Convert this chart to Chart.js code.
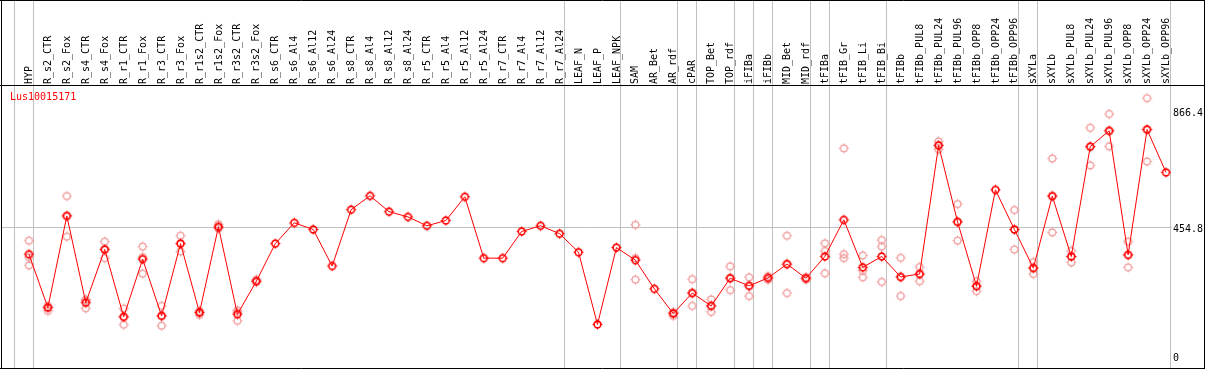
<!DOCTYPE html>
<html><head><meta charset="utf-8">
<script src="https://cdn.jsdelivr.net/npm/chart.js@4/dist/chart.umd.min.js"></script>
<style>html,body{margin:0;padding:0;background:#fff;}canvas{display:block;}</style>
</head><body>
<canvas id="c" width="1209" height="370"></canvas>
<script>
const categories = ["HYP","R_s2_CTR","R_s2_Fox","R_s4_CTR","R_s4_Fox","R_r1_CTR","R_r1_Fox","R_r3_CTR","R_r3_Fox","R_r1s2_CTR","R_r1s2_Fox","R_r3s2_CTR","R_r3s2_Fox","R_s6_CTR","R_s6_Al4","R_s6_Al12","R_s6_Al24","R_s8_CTR","R_s8_Al4","R_s8_Al12","R_s8_Al24","R_r5_CTR","R_r5_Al4","R_r5_Al12","R_r5_Al24","R_r7_CTR","R_r7_Al4","R_r7_Al12","R_r7_Al24","LEAF_N","LEAF_P","LEAF_NPK","SAM","AR_Bet","AR_rdf","cPAR","TOP_Bet","TOP_rdf","iFIBa","iFIBb","MID_Bet","MID_rdf","tFIBa","tFIB_Gr","tFIB_Li","tFIB_Bi","tFIBb","tFIBb_PUL8","tFIBb_PUL24","tFIBb_PUL96","tFIBb_OPP8","tFIBb_OPP24","tFIBb_OPP96","sXYLa","sXYLb","sXYLb_PUL8","sXYLb_PUL24","sXYLb_PUL96","sXYLb_OPP8","sXYLb_OPP24","sXYLb_OPP96"];
const meanValues = [357.6,168.3,493.3,185.8,374.1,135.7,340.1,139.2,395.2,150.8,454.8,144.8,261.9,395.2,468.8,445.3,315.6,515.4,564.5,508.4,489.8,458.3,476.9,561.0,343.6,343.6,438.3,458.3,430.2,364.7,108.7,381.1,336.6,234.9,147.3,219.8,174.3,272.4,245.4,273.5,322.6,272.4,349.6,479.3,311.0,349.6,277.0,287.5,743.3,472.3,244.4,585.6,445.3,308.6,563.5,349.6,738.8,794.9,355.2,799.4,647.6];
const replicateValues = [
 [405.7,347.3,318.0],[174.3,168.3,156.7],[563.5,493.3,419.7],[197.4,192.8,165.8],[402.2,375.2,343.6],
 [164.8,135.7,107.6],[384.6,347.1,288.6],[174.3,139.2,104.1],[423.2,395.2,367.1],[156.7,152.5,142.7],
 [463.9,451.3,448.8],[158.8,152.5,121.7],[267.5,261.9,259.5],[],[],[],[],[],[],[],[],[],[],[],[],[],[],[],[],[],[],[],
 [461.8,343.6,267.5],[],[139.2,150.0,152.0],[268.9,220.9,174.3],[197.4,175.3,153.2],[314.5,273.5,230.4],
 [275.9,245.4,209.3],[279.5,273.5,267.5],[423.2,322.6,219.8],[275.9,272.4,267.5],[396.2,369.2,290.0],
 [732.8,357.6,343.6],[353.1,299.1,275.9],[407.8,384.6,259.5],[344.7,277.0,209.3],[312.1,287.5,261.9],
 [757.4,743.3,729.3],[535.4,472.3,405.7],[261.9,244.4,226.9],[],[514.4,445.3,374.1],[329.6,308.6,287.5],
 [696.7,563.5,434.8],[369.2,349.6,328.5],[805.4,738.8,672.2],[854.5,794.9,739.8],[402.2,355.2,311.0],
 [910.6,799.4,686.2],[]
];
const yTickValues = [0, 454.8, 866.4];
const groupEnds = [-1,0,28,31,34,35,37,38,39,41,42,45,52,53,60];
const seriesName = "Lus10015171";

function marker(color, lw){
  const c = document.createElement('canvas'); c.width = 13; c.height = 13;
  const g = c.getContext('2d');
  g.strokeStyle = color; g.lineWidth = lw;
  g.beginPath(); g.arc(6.5,6.5,3.4,0,Math.PI*2); g.stroke();
  g.lineWidth = 1;
  g.beginPath();
  g.moveTo(6.5,1.5); g.lineTo(6.5,3); g.moveTo(6.5,10); g.lineTo(6.5,11.5);
  g.moveTo(1.5,6.5); g.lineTo(3,6.5); g.moveTo(10,6.5); g.lineTo(11.5,6.5);
  g.stroke();
  return c;
}
const mainMarker = marker('#ff0000',1.6);
const repMarker = marker('#f09a9a',1.2);

const mainData = meanValues.map((v,i)=>({x:i,y:v}));
const repData = [];
replicateValues.forEach((arr,i)=>arr.forEach(v=>repData.push({x:i,y:v})));

const FONT = '10px "DejaVu Sans Mono", monospace';
const deco = {
  id:'deco',
  beforeDraw(chart){
    const ctx = chart.ctx;
    ctx.save(); ctx.fillStyle='#fff'; ctx.fillRect(0,0,chart.width,chart.height); ctx.restore();
  },
  beforeDatasetsDraw(chart){
    const ctx = chart.ctx, xs = chart.scales.x, ys = chart.scales.y;
    ctx.save();
    ctx.strokeStyle = '#c0c0c0'; ctx.lineWidth = 1;
    groupEnds.forEach(g=>{
      const px = Math.round(xs.getPixelForValue(g + 0.21)) + 0.5;
      ctx.beginPath(); ctx.moveTo(px,1); ctx.lineTo(px,368); ctx.stroke();
    });
    const gy = Math.round(ys.getPixelForValue(yTickValues[1])) + 0.5;
    ctx.beginPath(); ctx.moveTo(1,gy); ctx.lineTo(1172,gy); ctx.stroke();
    ctx.restore();
  },
  afterDraw(chart){
    const ctx = chart.ctx, xs = chart.scales.x, ys = chart.scales.y;
    ctx.save();
    ctx.font = FONT; ctx.fillStyle = '#000';
    categories.forEach((c,i)=>{
      const px = xs.getPixelForValue(i);
      ctx.save(); ctx.translate(px+0.5, 84); ctx.rotate(-Math.PI/2);
      ctx.textAlign='left'; ctx.textBaseline='middle';
      ctx.fillText(c,0,0); ctx.restore();
    });
    ctx.textAlign='left'; ctx.textBaseline='middle';
    yTickValues.forEach(v=>{
      ctx.fillText(String(v), 1173, ys.getPixelForValue(v)+3);
    });
    ctx.fillStyle='#ff0000';
    ctx.fillText(seriesName, 10, 97);
    ctx.strokeStyle='#000'; ctx.lineWidth=1;
    ctx.beginPath();
    ctx.moveTo(0,0.5); ctx.lineTo(1205,0.5);
    ctx.moveTo(0,85.5); ctx.lineTo(1205,85.5);
    ctx.moveTo(0,368.5); ctx.lineTo(1205,368.5);
    ctx.moveTo(1.5,0); ctx.lineTo(1.5,369);
    ctx.moveTo(1204.5,0); ctx.lineTo(1204.5,369);
    ctx.stroke();
    ctx.fillStyle='#fff'; ctx.fillRect(1205,0,4,370);
    ctx.restore();
  }
};

new Chart(document.getElementById('c'), {
  type:'scatter',
  data:{datasets:[
    {data:mainData, showLine:true, borderColor:'#ff0000', borderWidth:1, pointStyle:mainMarker, pointRadius:4, order:0, tension:0},
    {data:repData, showLine:false, pointStyle:repMarker, pointRadius:4, order:1}
  ]},
  options:{
    responsive:false, animation:false, devicePixelRatio:1,
    layout:{padding:{left:2,right:38,top:86,bottom:2}},
    plugins:{legend:{display:false},tooltip:{enabled:false}},
    scales:{
      x:{type:'linear', display:false, min:-24/19, max:60+5/19},
      y:{type:'linear', display:false, min:-10/0.2852, max:272/0.2852}
    }
  },
  plugins:[deco]
});
</script>
</body></html>
